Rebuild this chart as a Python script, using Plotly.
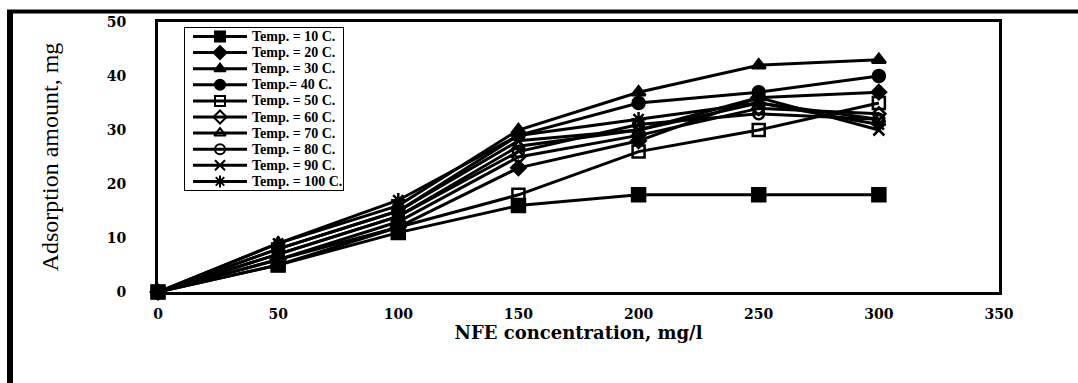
import plotly.graph_objects as go

conc = [0, 50, 100, 150, 200, 250, 300]
names = ["Temp. = 10 C.", "Temp. = 20 C.", "Temp. = 30 C.", "Temp.= 40 C.", "Temp. = 50 C.",
         "Temp. = 60 C.", "Temp. = 70 C.", "Temp. = 80 C.", "Temp. = 90 C.", "Temp. = 100 C."]
t10 = [0, 5, 11, 16, 18, 18, 18]
t20 = [0, 6, 12, 23, 28, 36, 37]
t30 = [0, 9, 16, 30, 37, 42, 43]
t40 = [0, 8, 15, 29, 35, 37, 40]
t50 = [0, 5, 12, 18, 26, 30, 35]
t60 = [0, 6, 13, 25, 29, 34, 33]
t70 = [0, 7, 14, 27, 30, 35, 32]
t80 = [0, 7, 14, 26, 31, 33, 32]
t90 = [0, 8, 15, 28, 30, 36, 30]
t100 = [0, 9, 17, 29, 32, 35, 31]
series = [t10, t20, t30, t40, t50, t60, t70, t80, t90, t100]
symbols = ["square", "diamond", "triangle-up", "circle", "square-open",
           "diamond-open", "triangle-up-open", "circle-open", "x-thin-open", "asterisk-open"]
sizes = [13, 11, 12, 12, 12, 10, 11, 11, 11, 12]

W, H = 1078, 383
L, R, T, B = 158, 79, 22, 91
pw, ph = W - L - R, H - T - B


def px(x):
    return (x - L) / pw


def py(y):
    return (H - B - y) / ph


fig = go.Figure()
for n, s, sym, sz in zip(names, series, symbols, sizes):
    fig.add_trace(go.Scatter(
        x=conc, y=s, name=n, mode="lines+markers", cliponaxis=False,
        showlegend=False,
        line=dict(color="black", width=3),
        marker=dict(symbol=sym, size=sz, color="black",
                    line=dict(color="black", width=2.5)),
    ))

# hand-built legend on a hidden helper axis (pixel-like units)
LEG_X0, LEG_X1, LEG_Y0, LEG_Y1 = 185, 343, 28, 190
annotations = []
for i, (n, sym) in enumerate(zip(names, symbols)):
    yi = 36.5 + 16.1 * i
    fig.add_trace(go.Scatter(
        x=[193, 247], y=[yi, yi], mode="lines", xaxis="x2", yaxis="y2",
        showlegend=False, hoverinfo="skip", line=dict(color="black", width=3)))
    fig.add_trace(go.Scatter(
        x=[220], y=[yi], mode="markers", xaxis="x2", yaxis="y2",
        showlegend=False, hoverinfo="skip",
        marker=dict(symbol=sym, size=10, color="black",
                    line=dict(color="black", width=2))))
    annotations.append(dict(
        x=250, y=yi, xref="x2", yref="y2", text=n, showarrow=False,
        xanchor="left", yanchor="middle",
        font=dict(family="Liberation Serif", size=14, color="black", weight="bold")))

fig.update_layout(
    width=W, height=H,
    margin=dict(l=L, r=R, t=T, b=B),
    paper_bgcolor="white", plot_bgcolor="white",
    font=dict(family="Liberation Serif", color="black"),
    showlegend=False,
    xaxis=dict(
        range=[0, 350], tickvals=[0, 50, 100, 150, 200, 250, 300, 350],
        showgrid=False, zeroline=False, showline=True, linecolor="black",
        linewidth=3, mirror=True, ticks="", ticklabelstandoff=7,
        tickfont=dict(family="DejaVu Serif", size=14, weight="bold"),
        title=dict(text="NFE concentration, mg/l", standoff=4,
                   font=dict(family="DejaVu Serif", size=18, weight="bold")),
    ),
    yaxis=dict(
        range=[0, 50], tickvals=[0, 10, 20, 30, 40, 50],
        showgrid=False, zeroline=False, showline=True, linecolor="black",
        linewidth=3, mirror=True, ticks="", ticklabelstandoff=26,
        tickfont=dict(family="DejaVu Serif", size=14, weight="bold"),
        title=dict(text="Adsorption amount, mg", standoff=42,
                   font=dict(family="Liberation Serif", size=24)),
    ),
    xaxis2=dict(domain=[px(LEG_X0), px(LEG_X1)], range=[LEG_X0, LEG_X1],
                anchor="y2", visible=False, fixedrange=True),
    yaxis2=dict(domain=[py(LEG_Y1), py(LEG_Y0)], range=[LEG_Y1, LEG_Y0],
                anchor="x2", visible=False, fixedrange=True),
    annotations=annotations,
    shapes=[
        dict(type="rect", xref="paper", yref="paper", x0=px(LEG_X0), x1=px(LEG_X1),
             y0=py(LEG_Y1), y1=py(LEG_Y0), line=dict(color="black", width=2),
             layer="below", fillcolor="white"),
        dict(type="line", xref="paper", yref="paper", x0=px(10), x1=px(10),
             y0=py(10), y1=py(383), line=dict(color="black", width=6)),
        dict(type="line", xref="paper", yref="paper", x0=px(7), x1=px(1078),
             y0=py(11.5), y1=py(11.5), line=dict(color="black", width=4)),
    ],
)

fig.write_html("out.html")
